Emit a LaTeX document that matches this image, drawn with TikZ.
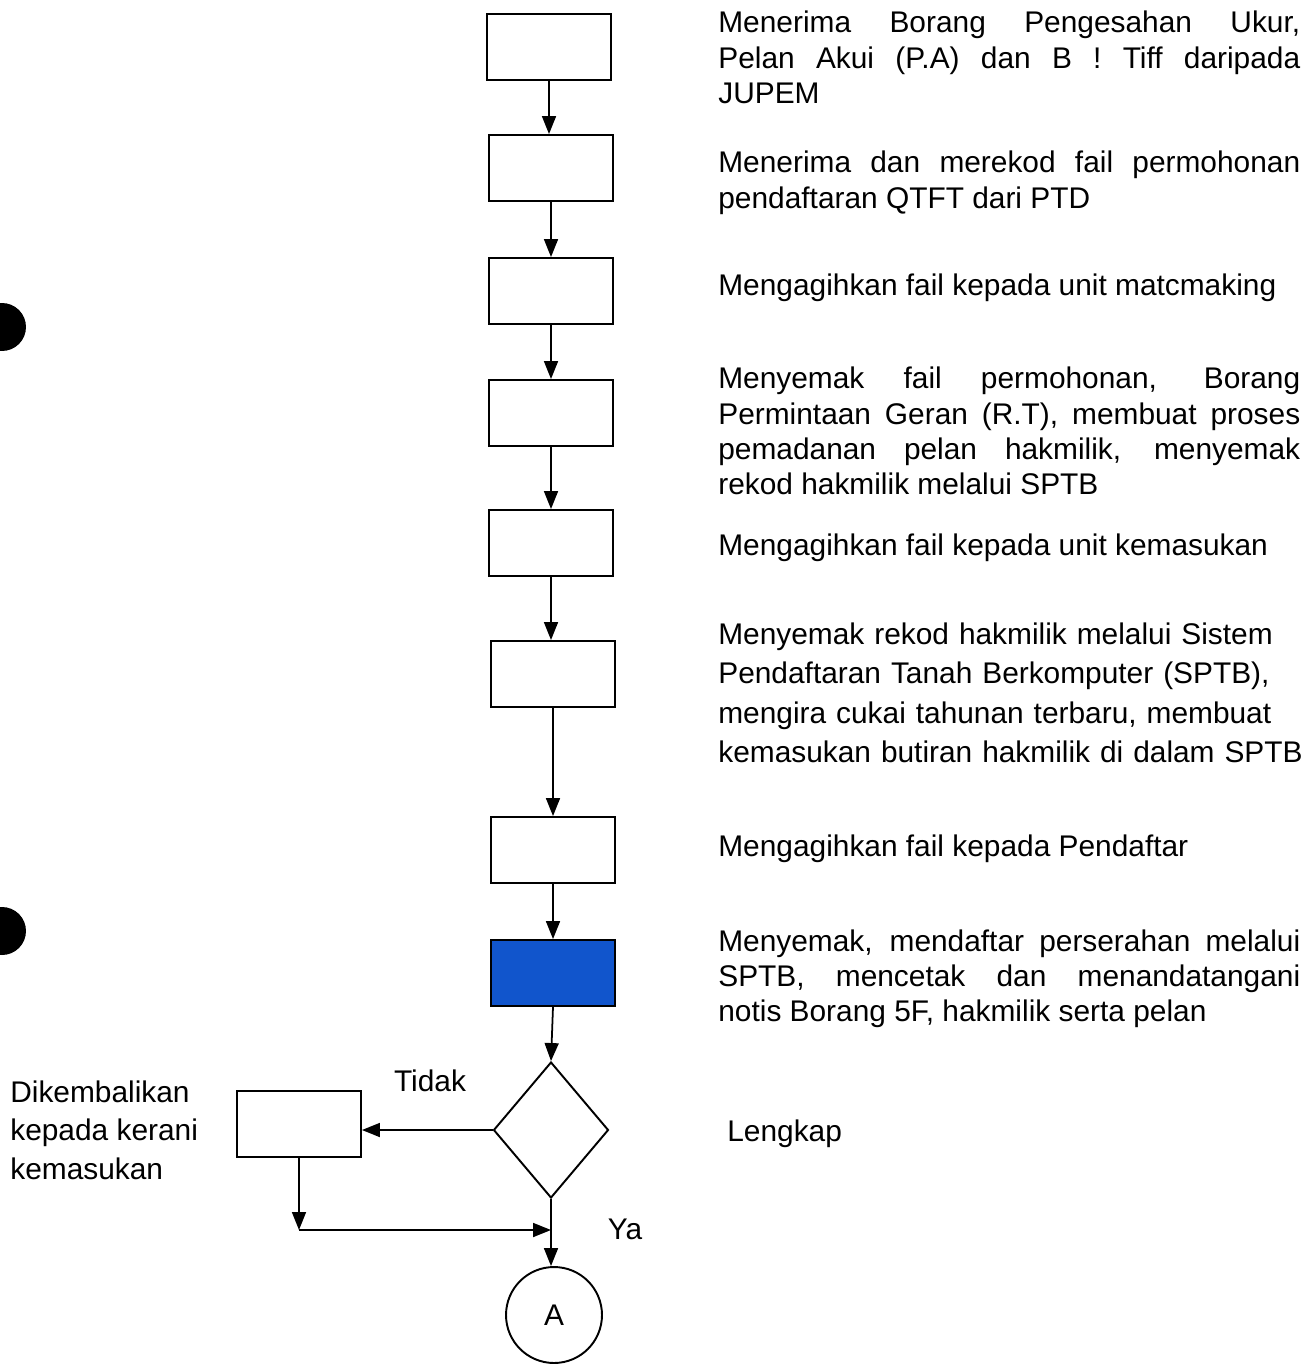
\documentclass[tikz,border=0pt]{standalone}
\usepackage{fontspec}
\setmainfont{Liberation Sans}
\usepackage{tikz}
\usetikzlibrary{shapes.geometric, arrows.meta, positioning}
\definecolor{boxblue}{RGB}{17,85,204}
\newcommand{\descfont}{\fontsize{17}{20}\selectfont}

\begin{document}
\begin{tikzpicture}[x=0.02cm, y=-0.02cm,
    stepbox/.style={draw, line width=1.1pt, minimum width=2.48cm, minimum height=1.32cm, inner sep=0pt},
    desc/.style={anchor=north west, inner sep=0pt, text width=11.64cm, align=justify, font=\descfont},
    flow/.style={-{Triangle[length=0.36cm,width=0.28cm]}, line width=1pt}]
            \useasboundingbox (0,0) rectangle (1313,1369);

            % Punch holes of the page
            \fill (2,327) circle[radius=0.48cm];
            \fill (2,931) circle[radius=0.48cm];

            % Draw the main column of steps
            \node[stepbox] (b1) at (549,47) {};
            \node[stepbox] (b2) at (551,168) {};
            \node[stepbox] (b3) at (551,291) {};
            \node[stepbox] (b4) at (551,413) {};
            \node[stepbox] (b5) at (551,543) {};
            \node[stepbox] (b6) at (553,674) {};
            \node[stepbox] (b7) at (553,850) {};
            \node[stepbox, fill=boxblue] (b8) at (553,973) {};
            \node[draw, diamond, line width=1.1pt, inner sep=0pt, minimum width=2.3cm, minimum height=2.72cm] (semak) at (551,1130) {};
            \node[stepbox] (balik) at (299,1124) {};
            \node[draw, circle, line width=1.1pt, minimum size=1.92cm, font=\descfont] (a) at (554,1315) {A};
            \coordinate (siku) at (299,1230);

            \draw[flow] (b1.south) -- (b1.south |- b2.north);
            \draw[flow] (b2.south) -- (b2.south |- b3.north);
            \draw[flow] (b3.south) -- (b3.south |- b4.north);
            \draw[flow] (b4.south) -- (b4.south |- b5.north);
            \draw[flow] (b5.south) -- (b5.south |- b6.north);
            \draw[flow] (b6.south) -- (b6.south |- b7.north);
            \draw[flow] (b7.south) -- (b7.south |- b8.north);
            \draw[flow] (b8.south) -- (semak.north);
            \draw[flow] (semak.west) -- (semak.west -| balik.east);
            \draw[flow] (balik.south) -- (siku);
            \draw[flow] (siku) -- (siku -| semak.south);
            \draw[flow] (semak.south) -- (semak.south |- a.north);

            % Branch labels
            \node[anchor=base, inner sep=0pt, font=\descfont] (tidak) at (430,1091) {Tidak};
            \node[anchor=base, inner sep=0pt, font=\descfont] (ya) at (625,1239) {Ya};
            \node[anchor=north west, inner sep=0pt, align=left, font=\fontsize{17}{22}\selectfont] (kembali) at (10,1080)
                {Dikembalikan\\kepada kerani\\kemasukan};

            % Descriptions of the steps
            \node[desc] (t1) at (718,11) {Menerima Borang Pengesahan Ukur,\linebreak Pelan Akui (P.A) dan B ! Tiff daripada\linebreak JUPEM};
            \node[desc] (t2) at (718,151) {Menerima dan merekod fail permohonan\linebreak pendaftaran QTFT dari PTD};
            \node[desc] (t3) at (718,274) {Mengagihkan fail kepada unit matcmaking};
            \node[desc] (t4) at (718,367) {Menyemak fail permohonan, Borang\linebreak Permintaan Geran (R.T), membuat proses\linebreak pemadanan pelan hakmilik, menyemak\linebreak rekod hakmilik melalui SPTB};
            \node[desc] (t5) at (718,533) {Mengagihkan fail kepada unit kemasukan};
            \node[desc, text width=12.6cm, align=left, font=\fontsize{17}{22.5}\selectfont] (t6) at (718,622)
                {Menyemak rekod hakmilik melalui Sistem\\Pendaftaran Tanah Berkomputer (SPTB),\\mengira cukai tahunan terbaru, membuat\\kemasukan butiran hakmilik di dalam SPTB};
            \node[desc] (t7) at (718,834) {Mengagihkan fail kepada Pendaftar};
            \node[desc] (t8) at (718,929) {Menyemak, mendaftar perserahan melalui\linebreak SPTB, mencetak dan menandatangani\linebreak notis Borang 5F, hakmilik serta pelan};
            \node[anchor=base west, inner sep=0pt, font=\descfont] (lengkap) at (727,1141) {Lengkap};
          \end{tikzpicture}
\end{document}
